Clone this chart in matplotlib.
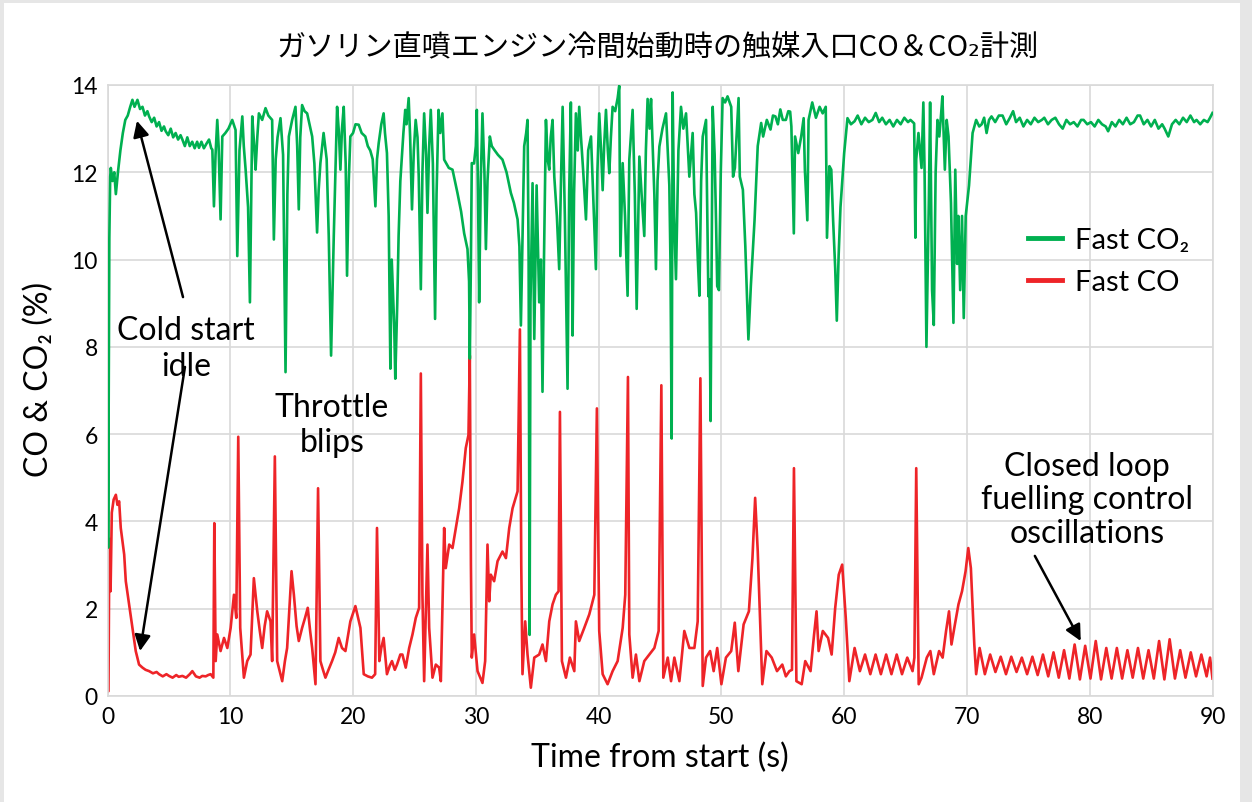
import matplotlib
matplotlib.use("Agg")
import matplotlib.pyplot as plt
from matplotlib.patches import Rectangle

# Fast CO2 (%)
co2_time = [
    0.00, 0.05, 0.15, 0.22, 0.27, 0.40, 0.55, 0.68, 0.85, 1.05, 1.25, 1.45, 1.65, 1.85,
    2.03, 2.20, 2.44, 2.65, 2.85, 3.05, 3.25, 3.39, 3.60, 3.80, 4.00, 4.20, 4.40, 4.60,
    4.74, 4.95, 5.15, 5.35, 5.55, 5.75, 5.95, 6.10, 6.30, 6.50, 6.70, 6.90, 7.10, 7.30,
    7.45, 7.65, 7.85, 8.05, 8.27, 8.45, 8.54, 8.67, 8.80, 8.94, 9.05, 9.21, 9.35, 9.60,
    9.85, 10.16, 10.43, 10.57, 10.75, 10.98, 11.10, 11.25, 11.45, 11.60, 11.79, 11.95,
    12.06, 12.20, 12.33, 12.60, 12.87, 13.10, 13.41, 13.55, 13.70, 13.85, 14.09, 14.30,
    14.50, 14.65, 14.77, 15.04, 15.31, 15.45, 15.58, 15.70, 15.85, 16.05, 16.26, 16.45,
    16.67, 16.85, 17.07, 17.20, 17.34, 17.60, 17.85, 18.02, 18.21, 18.43, 18.70, 18.85,
    18.97, 19.10, 19.24, 19.40, 19.51, 19.65, 19.78, 20.00, 20.20, 20.46, 20.70, 21.00,
    21.20, 21.40, 21.60, 21.82, 21.95, 22.09, 22.30, 22.49, 22.60, 22.76, 22.90, 23.04,
    23.15, 23.22, 23.35, 23.44, 23.60, 23.71, 23.85, 23.98, 24.10, 24.25, 24.35, 24.53,
    24.65, 24.80, 24.95, 25.10, 25.25, 25.35, 25.52, 25.65, 25.79, 25.95, 26.06, 26.20,
    26.33, 26.50, 26.68, 26.80, 26.96, 27.10, 27.28, 27.42, 27.60, 27.80, 28.10, 28.30,
    28.50, 28.80, 29.05, 29.32, 29.45, 29.51, 29.60, 29.67, 29.85, 30.00, 30.08, 30.18,
    30.27, 30.40, 30.54, 30.70, 30.82, 30.95, 31.14, 31.30, 31.49, 31.80, 32.17, 32.50,
    32.85, 33.10, 33.40, 33.55, 33.67, 33.80, 33.94, 34.10, 34.21, 34.30, 34.38, 34.45,
    34.62, 34.76, 34.95, 35.16, 35.30, 35.43, 35.55, 35.71, 35.85, 35.98, 36.10, 36.25,
    36.39, 36.60, 36.79, 36.95, 37.07, 37.25, 37.47, 37.60, 37.74, 37.88, 38.00, 38.15,
    38.30, 38.42, 38.56, 38.75, 38.97, 39.15, 39.38, 39.55, 39.78, 39.90, 40.05, 40.20,
    40.33, 40.45, 40.60, 40.75, 40.87, 41.00, 41.14, 41.35, 41.55, 41.68, 41.77, 41.96,
    42.15, 42.36, 42.50, 42.77, 42.95, 43.10, 43.32, 43.50, 43.72, 43.85, 43.99, 44.15,
    44.27, 44.54, 44.67, 44.80, 44.95, 45.20, 45.49, 45.76, 45.85, 45.95, 46.03, 46.15,
    46.30, 46.50, 46.71, 46.90, 47.12, 47.39, 47.66, 47.80, 47.94, 48.08, 48.21, 48.35,
    48.48, 48.75, 48.94, 49.02, 49.12, 49.29, 49.45, 49.57, 49.66, 49.80, 49.95, 50.10,
    50.30, 50.50, 50.80, 50.95, 51.10, 51.40, 51.50, 51.75, 51.95, 52.20, 52.40, 52.70,
    52.96, 53.24, 53.40, 53.70, 54.00, 54.20, 54.40, 54.60, 54.80, 55.00, 55.25, 55.45,
    55.60, 55.70, 55.90, 56.00, 56.26, 56.50, 56.70, 56.80, 57.00, 57.10, 57.40, 57.70,
    58.00, 58.25, 58.50, 58.60, 58.80, 58.95, 59.10, 59.27, 59.40, 59.55, 59.70, 60.00,
    60.27, 60.55, 60.85, 61.10, 61.40, 61.70, 62.00, 62.30, 62.57, 62.85, 63.10, 63.40,
    63.70, 64.00, 64.30, 64.60, 64.90, 65.20, 65.40, 65.70, 65.80, 65.87, 66.05, 66.30,
    66.45, 66.55, 66.70, 66.90, 67.00, 67.16, 67.30, 67.45, 67.60, 67.75, 67.90, 68.00,
    68.20, 68.35, 68.50, 68.70, 68.90, 69.05, 69.20, 69.30, 69.45, 69.60, 69.74, 69.90,
    70.17, 70.46, 70.75, 71.00, 71.20, 71.40, 71.60, 71.80, 72.00, 72.30, 72.60, 72.90,
    73.20, 73.50, 73.76, 74.00, 74.30, 74.60, 74.90, 75.20, 75.50, 75.80, 76.10, 76.30,
    76.60, 76.90, 77.20, 77.50, 77.80, 78.10, 78.40, 78.70, 79.00, 79.30, 79.50, 79.80,
    80.10, 80.40, 80.70, 81.00, 81.30, 81.50, 81.80, 82.10, 82.40, 82.70, 83.00, 83.30,
    83.60, 83.90, 84.10, 84.40, 84.70, 85.00, 85.30, 85.60, 85.90, 86.10, 86.40, 86.70,
    87.00, 87.30, 87.60, 87.90, 88.20, 88.50, 88.70, 89.00, 89.30, 89.60, 89.80, 90.00,
]
co2_pct = [
    9.8, 3.4, 10.5, 11.9, 12.1, 11.8, 12.0, 11.5, 12.0, 12.5, 12.9, 13.2, 13.3, 13.5,
    13.66, 13.5, 13.66, 13.45, 13.5, 13.3, 13.4, 13.28, 13.15, 13.25, 13.05, 13.15, 12.95, 13.05,
    12.94, 12.85, 13.0, 12.8, 12.9, 12.75, 12.85, 12.75, 12.6, 12.8, 12.6, 12.7, 12.55, 12.7,
    12.56, 12.7, 12.55, 12.65, 12.75, 12.55, 12.52, 11.22, 12.4, 13.2, 12.6, 10.92, 12.82, 12.9,
    13.0, 13.2, 12.97, 10.08, 12.5, 13.28, 12.6, 12.06, 11.2, 9.02, 13.28, 12.6,
    12.06, 12.8, 13.35, 13.2, 13.47, 13.3, 13.2, 10.46, 12.3, 12.8, 13.24, 12.4,
    7.42, 11.5, 12.82, 13.2, 13.5, 12.6, 11.15, 12.8, 13.54, 13.4, 13.35, 13.1,
    12.82, 12.2, 10.62, 11.6, 12.21, 12.9, 12.3, 10.54, 7.8, 10.54, 13.5, 12.9,
    12.06, 13.0, 13.5, 12.2, 9.63, 11.8, 12.82, 12.9, 13.1, 13.09, 12.9, 12.82,
    12.6, 12.5, 12.3, 11.22, 12.3, 12.67, 13.1, 13.35, 12.9, 12.44, 11.0, 7.5,
    10.0, 9.48, 8.5, 7.27, 9.0, 10.54, 11.8, 12.36, 12.9, 13.43, 13.1, 13.7,
    12.8, 11.15, 12.5, 13.2, 12.8, 11.9, 9.32, 12.0, 13.35, 12.4, 11.07, 12.6,
    13.43, 12.2, 8.64, 11.5, 13.43, 12.9, 13.35, 12.29, 12.2, 12.1, 12.06, 11.8,
    11.53, 11.1, 10.6, 10.24, 9.5, 7.73, 10.0, 12.21, 12.2, 12.6, 13.43, 11.5,
    9.02, 11.8, 13.35, 12.0, 10.24, 11.8, 12.82, 12.6, 12.52, 12.4, 12.29, 12.0,
    11.53, 11.3, 10.92, 10.3, 8.49, 10.5, 12.6, 12.9, 13.2, 10.0, 1.4, 9.0,
    11.75, 8.18, 11.7, 9.02, 10.0, 6.97, 10.0, 13.2, 12.3, 12.06, 12.8, 13.2,
    11.9, 11.0, 9.78, 12.0, 13.5, 11.0, 7.04, 11.5, 13.6, 8.26, 11.5, 13.35,
    12.5, 13.5, 12.82, 12.0, 10.92, 12.5, 12.82, 11.5, 9.78, 12.0, 13.35, 12.5,
    11.59, 12.6, 13.43, 12.5, 11.98, 12.8, 13.5, 13.4, 13.7, 13.98, 10.08, 12.21,
    11.0, 9.17, 12.29, 13.43, 11.5, 8.87, 12.36, 11.5, 10.54, 12.5, 13.68, 13.0,
    13.68, 11.49, 9.78, 11.8, 12.59, 13.0, 13.35, 11.7, 10.0, 5.9, 13.83, 11.0,
    9.55, 12.5, 13.5, 13.0, 13.35, 11.9, 12.9, 11.5, 11.07, 10.0, 9.17, 11.8,
    12.82, 13.2, 9.16, 9.55, 6.3, 13.5, 12.4, 10.8, 9.39, 9.3, 12.0, 13.7,
    13.6, 13.74, 13.5, 11.9, 12.1, 13.7, 11.9, 11.6, 10.3, 8.17, 9.4, 10.9,
    12.6, 13.13, 12.82, 13.2, 12.98, 13.3, 13.28, 13.1, 13.44, 13.2, 13.2, 13.4,
    13.39, 13.05, 10.6, 12.82, 12.44, 12.82, 13.24, 12.06, 10.9, 13.2, 13.6, 13.25,
    13.5, 13.35, 13.5, 10.5, 12.14, 12.06, 10.9, 9.8, 8.6, 10.1, 11.2, 12.44,
    13.24, 13.1, 13.17, 13.3, 13.1, 13.25, 13.15, 13.2, 13.36, 13.15, 13.25, 13.1,
    13.2, 13.05, 13.2, 13.1, 13.25, 13.15, 13.2, 13.12, 10.5, 12.3, 12.9, 12.1,
    13.6, 12.0, 8.0, 11.4, 13.6, 9.3, 8.5, 12.0, 13.2, 12.82, 13.35, 13.74,
    12.06, 13.2, 12.82, 11.3, 8.55, 12.06, 9.9, 11.0, 9.3, 11.0, 8.66, 11.0,
    11.7, 12.9, 13.2, 13.05, 13.1, 13.25, 12.9, 13.2, 13.28, 13.15, 13.3, 13.3,
    13.1, 13.25, 13.4, 13.15, 13.25, 13.05, 13.2, 13.1, 13.25, 13.15, 13.2, 13.25,
    13.1, 13.2, 13.25, 13.1, 13.0, 13.2, 13.1, 13.15, 13.05, 13.2, 13.2, 13.1,
    13.15, 13.05, 13.2, 13.1, 13.05, 12.94, 13.15, 13.05, 13.2, 13.1, 13.25, 13.1,
    13.15, 13.3, 13.3, 13.1, 13.2, 13.05, 13.2, 13.0, 13.1, 13.0, 12.82, 13.1,
    13.2, 13.1, 13.25, 13.15, 13.3, 13.15, 13.2, 13.1, 13.2, 13.15, 13.25, 13.36,
]

# Fast CO (%)
co_time = [
    0.00, 0.08, 0.15, 0.25, 0.35, 0.50, 0.68, 0.81, 0.95, 1.08, 1.22, 1.36, 1.49, 1.76,
    2.03, 2.30, 2.57, 2.85, 3.10, 3.39, 3.70, 4.00, 4.20, 4.50, 4.80, 5.01, 5.30, 5.60,
    5.80, 6.10, 6.40, 6.70, 6.91, 7.20, 7.50, 7.72, 8.00, 8.20, 8.40, 8.62, 8.70, 8.81,
    8.94, 9.21, 9.49, 9.76, 10.03, 10.30, 10.49, 10.65, 10.81, 11.11, 11.38, 11.65, 11.92,
    12.20, 12.40, 12.60, 12.80, 13.00, 13.28, 13.41, 13.63, 13.82, 14.00, 14.23, 14.45,
    14.63, 14.99, 15.18, 15.40, 15.58, 15.85, 16.10, 16.31, 16.50, 16.67, 16.94, 17.15,
    17.34, 17.55, 17.75, 18.00, 18.29, 18.55, 18.83, 19.10, 19.38, 19.60, 19.78, 20.00,
    20.19, 20.40, 20.60, 20.87, 21.20, 21.54, 21.80, 21.95, 22.14, 22.30, 22.49, 22.76,
    23.00, 23.17, 23.40, 23.58, 23.85, 24.02, 24.29, 24.57, 24.84, 25.11, 25.38, 25.52,
    25.65, 25.79, 26.06, 26.20, 26.47, 26.74, 27.01, 27.15, 27.42, 27.55, 27.83, 28.10,
    28.37, 28.64, 28.91, 29.18, 29.40, 29.51, 29.60, 29.67, 29.86, 30.14, 30.54, 30.76,
    30.95, 31.09, 31.22, 31.49, 31.77, 32.17, 32.45, 32.72, 32.99, 33.40, 33.59, 33.70,
    33.80, 34.02, 34.21, 34.48, 34.76, 35.16, 35.43, 35.71, 35.98, 36.25, 36.52, 36.74,
    36.85, 37.01, 37.34, 37.66, 38.02, 38.15, 38.42, 38.83, 39.24, 39.65, 39.86, 40.05,
    40.33, 40.73, 41.14, 41.55, 41.96, 42.17, 42.39, 42.50, 42.77, 43.04, 43.32, 43.72,
    44.13, 44.54, 44.89, 45.11, 45.27, 45.63, 45.90, 46.17, 46.58, 46.98, 47.39, 47.80,
    48.07, 48.29, 48.48, 48.75, 49.08, 49.37, 49.66, 50.00, 50.37, 50.80, 51.09, 51.38,
    51.81, 52.24, 52.53, 52.75, 52.96, 53.33, 53.67, 54.10, 54.53, 54.96, 55.25, 55.54,
    55.75, 55.91, 56.11, 56.54, 56.83, 57.26, 57.55, 57.75, 57.92, 58.26, 58.69, 58.98,
    59.27, 59.56, 59.84, 60.13, 60.42, 60.85, 61.28, 61.70, 62.13, 62.56, 62.99, 63.42,
    63.85, 64.28, 64.71, 65.14, 65.57, 65.72, 65.87, 66.07, 66.30, 66.73, 67.02, 67.30,
    67.73, 68.02, 68.30, 68.54, 68.74, 69.02, 69.31, 69.60, 69.89, 70.11, 70.32, 70.60,
    70.75, 71.03, 71.46, 71.89, 72.32, 72.75, 73.18, 73.61, 74.04, 74.47, 74.90, 75.33,
    75.76, 76.19, 76.62, 77.05, 77.48, 77.91, 78.34, 78.77, 79.20, 79.63, 80.06, 80.49,
    80.92, 81.35, 81.78, 82.21, 82.64, 83.07, 83.50, 83.93, 84.36, 84.79, 85.22, 85.65,
    86.08, 86.51, 86.94, 87.37, 87.80, 88.23, 88.66, 89.09, 89.52, 89.80, 90.00,
]
co_pct = [
    0.1, 0.11, 3.6, 2.4, 4.2, 4.5, 4.61, 4.38, 4.46, 3.85, 3.54, 3.24, 2.63, 2.1,
    1.56, 1.03, 0.72, 0.65, 0.6, 0.57, 0.52, 0.55, 0.5, 0.45, 0.5, 0.46, 0.42, 0.48,
    0.44, 0.46, 0.42, 0.5, 0.57, 0.45, 0.42, 0.46, 0.45, 0.48, 0.5, 0.42, 3.96, 0.8,
    1.41, 1.03, 1.33, 1.1, 1.56, 2.32, 1.79, 5.94, 1.56, 0.42, 0.8, 0.95, 2.7,
    1.94, 1.5, 1.1, 1.6, 1.94, 1.71, 0.8, 5.49, 0.8, 0.6, 0.34, 0.8,
    1.1, 2.86, 2.32, 1.6, 1.26, 1.56, 1.8, 2.02, 1.5, 1.1, 0.27, 4.76,
    0.8, 0.6, 0.42, 0.6, 0.8, 1.0, 1.33, 1.1, 1.03, 1.4, 1.71, 1.9,
    2.06, 1.8, 1.56, 0.5, 0.45, 0.42, 0.5, 3.85, 0.8, 1.1, 1.33, 0.5,
    0.7, 0.8, 0.6, 0.72, 0.95, 0.95, 0.65, 1.1, 1.41, 1.79, 2.02, 7.39,
    2.32, 0.34, 3.47, 1.56, 0.42, 0.72, 0.65, 0.34, 3.85, 2.93, 3.47, 3.39,
    3.85, 4.3, 4.91, 5.68, 5.98, 7.8, 3.0, 0.88, 1.41, 0.57, 0.3, 0.8,
    3.47, 2.17, 2.78, 2.63, 3.09, 3.31, 3.16, 3.85, 4.3, 4.69, 8.4, 3.0,
    0.5, 1.71, 0.95, 0.19, 0.88, 0.95, 1.18, 0.8, 1.71, 2.1, 2.32, 2.4,
    6.51, 0.8, 0.42, 0.88, 0.57, 1.71, 1.26, 1.56, 1.87, 2.32, 6.59, 1.49,
    0.5, 0.27, 0.57, 0.8, 1.56, 2.32, 7.31, 1.41, 0.42, 0.95, 0.34, 0.8,
    0.95, 1.1, 1.49, 7.12, 0.42, 0.88, 0.34, 0.88, 0.34, 1.49, 1.1, 1.1,
    1.71, 7.28, 0.23, 0.88, 1.03, 0.57, 1.1, 0.27, 0.88, 1.03, 1.68, 0.57,
    1.64, 1.94, 3.16, 4.54, 3.32, 0.27, 1.03, 0.88, 0.57, 0.72, 0.45, 0.57,
    0.6, 5.22, 0.34, 0.27, 0.8, 0.57, 1.41, 1.94, 1.03, 1.49, 1.33, 0.95,
    2.02, 2.78, 3.01, 1.79, 0.34, 1.1, 0.57, 0.95, 0.5, 0.95, 0.5, 0.95,
    0.5, 0.95, 0.5, 0.88, 0.57, 0.88, 5.22, 0.27, 0.42, 0.88, 1.03, 0.5,
    1.03, 0.88, 1.49, 1.94, 1.18, 1.64, 2.1, 2.4, 2.86, 3.39, 2.93, 1.18,
    0.5, 1.1, 0.5, 0.95, 0.55, 0.9, 0.5, 0.9, 0.55, 0.88, 0.5, 0.9,
    0.48, 0.95, 0.45, 1.0, 0.42, 1.05, 0.4, 1.18, 0.38, 1.15, 0.4, 1.26,
    0.38, 1.1, 0.4, 1.1, 0.4, 1.05, 0.42, 1.1, 0.4, 1.05, 0.4, 1.26,
    0.38, 1.3, 0.4, 1.05, 0.42, 1.0, 0.45, 0.95, 0.45, 0.88, 0.4,
]

x_ticks = [0, 10, 20, 30, 40, 50, 60, 70, 80, 90]
y_ticks = [0, 2, 4, 6, 8, 10, 12, 14]

GREEN = "#00b050"
RED = "#ee2428"
GRID = "#d9d9d9"
TXT = ["Lato", "DejaVu Sans"]

fig = plt.figure(figsize=(12.52, 8.03), dpi=100)
fig.patch.set_facecolor("#e6e6e6")
# white card on the grey page (behind the axes)
fig.patches.append(Rectangle((4 / 1252, 0), 1236 / 1252, 799 / 803,
                             transform=fig.transFigure, facecolor="white",
                             edgecolor="none", zorder=-5))

ax = fig.add_axes([107.5 / 1252, 1 - 697 / 803, 1105 / 1252, 611 / 803])
ax.set_facecolor("white")

ax.plot(co2_time, co2_pct, color=GREEN, lw=1.9, label="Fast CO₂", zorder=3)
ax.plot(co_time, co_pct, color=RED, lw=1.9, label="Fast CO", zorder=2)

ax.set_xlim(0, 90)
ax.set_ylim(0, 14)
ax.set_xticks(x_ticks)
ax.set_yticks(y_ticks)
ax.grid(True, color=GRID, lw=1.2)
ax.set_axisbelow(True)
for s in ax.spines.values():
    s.set_color(GRID)
    s.set_linewidth(1.2)
ax.tick_params(length=0, pad=7, labelsize=16.5)
for lab in ax.get_xticklabels() + ax.get_yticklabels():
    lab.set_family(TXT)

ax.set_xlabel("Time from start (s)", fontsize=23, family=TXT, labelpad=11)
ax.set_ylabel("CO & CO₂ (%)", fontsize=23, family=TXT)
ax.yaxis.set_label_coords(-0.048, 0.52)

fig.text(0.525, 0.94, "ガソリン直噴エンジン冷間始動時の触媒入口CO＆CO₂計測",
         ha="center", va="center", fontsize=21,
         family=["Noto Sans CJK JP", "DejaVu Sans"])

leg = ax.legend(loc="upper left", bbox_to_anchor=(0.833, 0.767), frameon=False,
                prop={"family": TXT, "size": 21}, handlelength=1.15,
                handletextpad=0.45, labelspacing=0.55, borderpad=0,
                borderaxespad=0)
for h in leg.get_lines():
    h.set_linewidth(3.5)

arrow = dict(arrowstyle="-|>", color="black", lw=1.8, mutation_scale=24,
             shrinkA=0, shrinkB=0)
ax.text(6.39, 7.97, "Cold start\nidle", ha="center", va="center", fontsize=23,
        family=TXT, linespacing=1.25)
ax.annotate("", xy=(2.4, 13.18), xytext=(6.15, 9.14), arrowprops=arrow)
ax.annotate("", xy=(2.65, 1.03), xytext=(6.31, 7.54), arrowprops=arrow)

ax.text(18.28, 6.23, "Throttle\nblips", ha="center", va="center", fontsize=23,
        family=TXT, linespacing=1.2)

ax.text(79.77, 4.51, "Closed loop\nfuelling control\noscillations", ha="center",
        va="center", fontsize=23, family=TXT, linespacing=1.15)
ax.annotate("", xy=(79.27, 1.26), xytext=(75.53, 3.21), arrowprops=arrow)

fig.savefig("out.png", dpi=100, facecolor=fig.get_facecolor())
